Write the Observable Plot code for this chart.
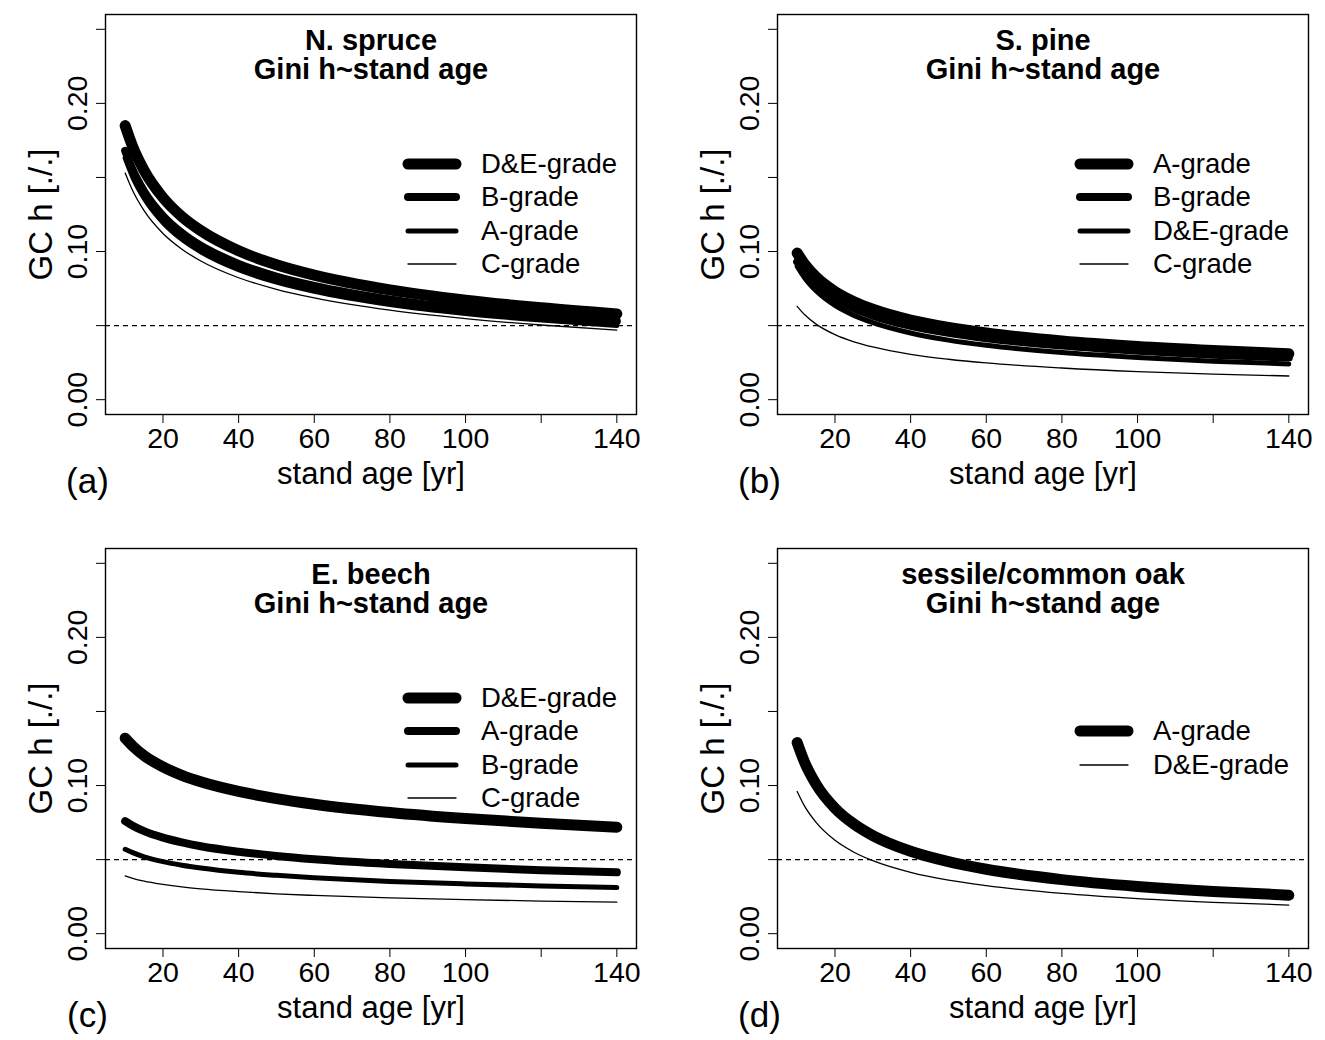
<!DOCTYPE html>
<html><head><meta charset="utf-8">
<script src="https://cdn.jsdelivr.net/npm/d3@7"></script>
<script src="https://cdn.jsdelivr.net/npm/@observablehq/plot@0.6"></script>
<style>
html,body{margin:0;padding:0;background:#fff;}
body{width:1325px;height:1040px;position:relative;overflow:hidden;font-family:"Liberation Sans",Arial,sans-serif;color:#000;}
.panel{position:absolute;}
.legend{position:absolute;}
.legend svg{position:absolute;left:0;overflow:visible;}
.legend span{position:absolute;font-size:27.5px;line-height:1;white-space:nowrap;}
</style></head>
<body>
<script>
// ---- data ----
const ages = [10, 12, 15, 20, 25, 30, 40, 50, 60, 80, 100, 120, 140];

const spruceDE = [0.185, 0.1707, 0.1548, 0.1364, 0.1236, 0.1141, 0.1005, 0.0911, 0.0841, 0.0741, 0.0672, 0.0620, 0.0579];
const spruceB  = [0.168, 0.1551, 0.1407, 0.1241, 0.1126, 0.1039, 0.0917, 0.0831, 0.0768, 0.0677, 0.0614, 0.0567, 0.0530];
const spruceA  = [0.163, 0.1502, 0.1360, 0.1196, 0.1082, 0.0998, 0.0877, 0.0794, 0.0732, 0.0643, 0.0582, 0.0537, 0.0501];
const spruceC  = [0.153, 0.1410, 0.1276, 0.1122, 0.1016, 0.0936, 0.0823, 0.0745, 0.0687, 0.0604, 0.0547, 0.0504, 0.0470];

const pineA  = [0.0990, 0.0914, 0.0828, 0.0730, 0.0662, 0.0611, 0.0538, 0.0488, 0.0450, 0.0396, 0.0359, 0.0332, 0.0310];
const pineB  = [0.0930, 0.0857, 0.0775, 0.0681, 0.0616, 0.0567, 0.0498, 0.0451, 0.0415, 0.0365, 0.0330, 0.0304, 0.0284];
const pineDE = [0.0900, 0.0822, 0.0735, 0.0636, 0.0569, 0.0520, 0.0450, 0.0402, 0.0367, 0.0318, 0.0285, 0.0260, 0.0241];
const pineC  = [0.0630, 0.0573, 0.0510, 0.0439, 0.0391, 0.0356, 0.0306, 0.0273, 0.0248, 0.0214, 0.0190, 0.0173, 0.0160];

const beechDE = [0.1320, 0.1266, 0.1202, 0.1126, 0.1069, 0.1025, 0.0960, 0.0912, 0.0874, 0.0818, 0.0777, 0.0745, 0.0719];
const beechA  = [0.0760, 0.0729, 0.0692, 0.0648, 0.0616, 0.0590, 0.0553, 0.0525, 0.0503, 0.0471, 0.0448, 0.0429, 0.0414];
const beechB  = [0.0570, 0.0547, 0.0519, 0.0486, 0.0462, 0.0443, 0.0414, 0.0394, 0.0378, 0.0353, 0.0336, 0.0322, 0.0311];
const beechC  = [0.0390, 0.0374, 0.0355, 0.0333, 0.0316, 0.0303, 0.0284, 0.0269, 0.0258, 0.0242, 0.0230, 0.0220, 0.0213];

const oakA  = [0.1290, 0.1155, 0.1009, 0.0847, 0.0740, 0.0662, 0.0556, 0.0486, 0.0435, 0.0365, 0.0319, 0.0285, 0.0260];
const oakDE = [0.0960, 0.0859, 0.0751, 0.0630, 0.0550, 0.0493, 0.0414, 0.0361, 0.0324, 0.0272, 0.0237, 0.0212, 0.0193];

const speciesTitles = ["N. spruce", "S. pine", "E. beech", "sessile/common oak"];
const subTitle = "Gini h~stand age";
const panelLetters = ["(a)", "(b)", "(c)", "(d)"];
const xLabel = "stand age [yr]";
const yLabel = "GC h [./.]";
const xTicks = [20, 40, 60, 80, 100, 120, 140];
const xTickLabels = ["20", "40", "60", "80", "100", "", "140"];
const yTicks = [0, 0.05, 0.10, 0.15, 0.20, 0.25];
const yTickLabels = ["0.00", "", "0.10", "", "0.20", ""];
const threshold = [0.05];
const xRange = [10, 140];
const yRange = [0, 0.25];

// series per panel, in legend order
const panelSeries = [
  [["D&E-grade", spruceDE], ["B-grade", spruceB], ["A-grade", spruceA], ["C-grade", spruceC]],
  [["A-grade", pineA], ["B-grade", pineB], ["D&E-grade", pineDE], ["C-grade", pineC]],
  [["D&E-grade", beechDE], ["A-grade", beechA], ["B-grade", beechB], ["C-grade", beechC]],
  [["A-grade", oakA], ["D&E-grade", oakDE]]
];

// ---- styles / layout ----
const FONT = '"Liberation Sans", Arial, sans-serif';
const widths4 = [11, 8, 5, 1.3];
const widths2 = [11, 1.3];
const W = 662, H = 506;
const offsets = [[0, 0], [672, 0], [0, 534], [672, 534]];
const M = {left: 105, right: 26, top: 14, bottom: 92};
const ext = (r) => { const d = (r[1] - r[0]) * 0.04; return [r[0] - d, r[1] + d]; };

panelSeries.forEach((series, p) => {
  const lw = series.length === 4 ? widths4 : widths2;
  const yLab = yTicks.map((v, i) => ({v, t: yTickLabels[i]})).filter(d => d.t);
  const xLab = xTicks.map((v, i) => ({v, t: xTickLabels[i]})).filter(d => d.t);
  const marks = [
    Plot.ruleY(threshold, {stroke: "#000", strokeWidth: 1.2, strokeDasharray: "5,4"}),
    ...series.slice().reverse().map(([name, vals]) => {
      const k = series.findIndex(s => s[0] === name);
      return Plot.line(ages.map((a, i) => ({a, v: vals[i]})), {
        x: "a", y: "v", stroke: "#000", strokeWidth: lw[k],
        strokeLinecap: "round", strokeLinejoin: "round", curve: "monotone-x"
      });
    }),
    Plot.frame({stroke: "#000", strokeWidth: 1.4}),
    Plot.text(yLab, {y: "v", text: "t", frameAnchor: "left", dx: -19, rotate: -90,
      textAnchor: "middle", lineAnchor: "bottom", fontSize: 28.5}),
    Plot.text(xLab, {x: "v", text: "t", frameAnchor: "bottom", dy: 13,
      textAnchor: "middle", lineAnchor: "top", fontSize: 28.5}),
    Plot.text([xLabel], {text: d => d, frameAnchor: "bottom", dy: 47, textAnchor: "middle", lineAnchor: "top", fontSize: 31}),
    Plot.text([yLabel], {text: d => d, frameAnchor: "left", dx: -54, rotate: -90, textAnchor: "middle", lineAnchor: "bottom", fontSize: 33}),
    Plot.text([panelLetters[p]], {text: d => d, frameAnchor: "bottom-left", dx: -18, dy: 54, textAnchor: "middle", lineAnchor: "top", fontSize: 35}),
    Plot.text([speciesTitles[p] + "\n" + subTitle], {text: d => d, frameAnchor: "top", dy: 15,
      textAnchor: "middle", lineAnchor: "top", fontSize: 29, fontWeight: "bold", lineHeight: 1.0})
  ];
  const chart = Plot.plot({
    width: W, height: H,
    marginLeft: M.left, marginRight: M.right, marginTop: M.top, marginBottom: M.bottom,
    style: {fontFamily: FONT, background: "#fff", color: "#000", overflow: "visible"},
    x: {domain: ext(xRange), ticks: xTicks, tickFormat: () => "", tickSize: 9, label: null},
    y: {domain: ext(yRange), ticks: yTicks, tickFormat: () => "", tickSize: 9, label: null},
    marks
  });
  chart.classList.add("panel");
  chart.style.left = offsets[p][0] + "px";
  chart.style.top = offsets[p][1] + "px";
  document.body.appendChild(chart);

  // legend (HTML overlay inside the plot frame)
  const lg = document.createElement("div");
  lg.className = "legend";
  const n = series.length;
  lg.style.left = (offsets[p][0] + 408) + "px";
  lg.style.top = (offsets[p][1] + 214) + "px";
  series.forEach(([name], i) => {
    const yy = (i - (n - 1) / 2) * 33.5;
    const svg = document.createElementNS("http://www.w3.org/2000/svg", "svg");
    svg.setAttribute("width", 50); svg.setAttribute("height", 1);
    svg.style.top = yy + "px";
    const ln = document.createElementNS("http://www.w3.org/2000/svg", "line");
    ln.setAttribute("x1", 0); ln.setAttribute("x2", 48); ln.setAttribute("y1", 0); ln.setAttribute("y2", 0);
    ln.setAttribute("stroke", "#000"); ln.setAttribute("stroke-width", lw[i]); ln.setAttribute("stroke-linecap", "round");
    svg.appendChild(ln);
    lg.appendChild(svg);
    const sp = document.createElement("span");
    sp.textContent = name;
    sp.style.left = "73px";
    sp.style.top = (yy - 14) + "px";
    lg.appendChild(sp);
  });
  document.body.appendChild(lg);
});
</script>
</body></html>
